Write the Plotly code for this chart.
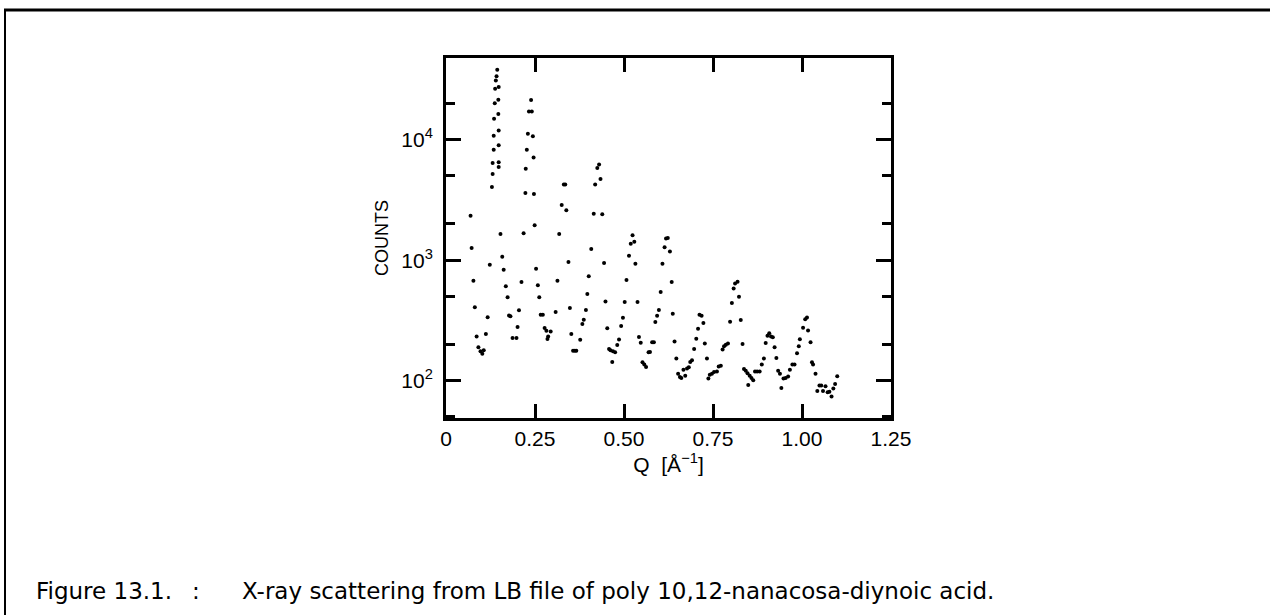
import plotly.graph_objects as go

# Scattering vector Q [1/Angstrom]
q = [0.069, 0.072, 0.077, 0.081, 0.086, 0.091, 0.097, 0.102, 0.106, 0.112, 0.117, 0.123,
     0.129, 0.131, 0.131, 0.134, 0.134, 0.135, 0.137, 0.138, 0.140, 0.142, 0.144,
     0.148, 0.147, 0.147, 0.148, 0.148, 0.148, 0.148,
     0.153, 0.158, 0.162, 0.168, 0.173, 0.177, 0.181, 0.187, 0.198, 0.201, 0.205, 0.212,
     0.218, 0.223, 0.224, 0.227, 0.230, 0.233, 0.239, 0.241, 0.244, 0.246, 0.247, 0.249,
     0.253, 0.258, 0.262, 0.266, 0.272, 0.277, 0.282, 0.287, 0.285, 0.294,
     0.308, 0.313, 0.318, 0.325, 0.331, 0.335, 0.338, 0.344, 0.348, 0.352, 0.357, 0.362,
     0.366, 0.377, 0.383, 0.387, 0.393, 0.397, 0.401,
     0.408, 0.415, 0.419, 0.425, 0.430, 0.434, 0.439, 0.444, 0.448, 0.453, 0.458, 0.462,
     0.469, 0.475, 0.467, 0.481, 0.486, 0.492, 0.497, 0.502, 0.507, 0.514, 0.519, 0.524,
     0.529, 0.532, 0.538, 0.542, 0.547, 0.552, 0.557, 0.562, 0.569, 0.573, 0.579, 0.584,
     0.588, 0.593, 0.598, 0.603, 0.608, 0.614, 0.618, 0.623, 0.629, 0.634, 0.637, 0.642,
     0.647, 0.652, 0.657, 0.661, 0.667, 0.672, 0.677, 0.682, 0.686, 0.691, 0.697, 0.703,
     0.708, 0.712, 0.718, 0.723, 0.727, 0.733, 0.737, 0.741, 0.747, 0.753, 0.761, 0.766,
     0.772, 0.777, 0.781, 0.786, 0.792,
     0.798, 0.803, 0.808, 0.812, 0.819, 0.823, 0.828, 0.833, 0.837, 0.842, 0.847, 0.849,
     0.853, 0.858, 0.863, 0.868, 0.874, 0.881, 0.887, 0.893, 0.898, 0.903, 0.908, 0.913,
     0.918, 0.923, 0.928, 0.933, 0.938, 0.942, 0.948, 0.954, 0.961, 0.966, 0.973, 0.979,
     0.986, 0.991, 0.994, 1.003, 1.009, 1.014, 1.017, 1.024, 1.028, 1.031, 1.038, 1.043,
     1.049, 1.054, 1.059, 1.066, 1.072, 1.077, 1.083, 1.088, 1.093, 1.099]

# Measured counts
counts = [2340, 1260, 676, 406, 233, 189, 175, 167, 179, 244, 336, 918,
          4050, 5190, 6400, 8260, 10800, 14900, 20100, 26500, 31000, 33600, 38100,
          27400, 21500, 16300, 11900, 8980, 6490, 5930,
          1650, 1070, 834, 607, 492, 348, 342, 226, 226, 279, 384, 659,
          1670, 3610, 5740, 8260, 11200, 17100, 21300, 17100, 10700, 7100, 3540, 1950,
          849, 618, 492, 353, 353, 274, 260, 233, 222, 256,
          372, 676, 1650, 2870, 4240, 4240, 2600, 966, 401, 244, 177, 177,
          177, 219, 295, 321, 386, 524, 735,
          1240, 2430, 4240, 5820, 6210, 4720, 2400, 946, 453, 272, 183, 179,
          175, 172, 143, 198, 220, 284, 333, 450, 684, 1090, 1370, 1610,
          1420, 935, 450, 230, 206, 142, 136, 130, 172, 173, 208, 208,
          307, 346, 386, 544, 935, 1280, 1510, 1530, 1180, 659, 360, 211,
          153, 114, 107, 105, 123, 110, 126, 129, 143, 148, 183, 223,
          270, 353, 346, 301, 203, 153, 104, 112, 114, 118, 119, 131,
          133, 181, 193, 199, 203,
          308, 441, 582, 641, 661, 497, 318, 201, 125, 121, 115, 92,
          110, 105, 101, 119, 119, 119, 136, 153, 205, 236, 248, 233,
          229, 189, 154, 121, 114, 87, 104, 105, 108, 123, 136, 136,
          169, 193, 221, 275, 324, 335, 261, 208, 142, 136, 114, 82,
          91, 91, 82, 90, 80, 81, 74, 86, 94, 109]

x_ticks = [0, 0.25, 0.5, 0.75, 1.0, 1.25]
x_tick_labels = ["0", "0.25", "0.50", "0.75", "1.00", "1.25"]
y_ticks = [100, 1000, 10000]
y_tick_labels = ["10<sup>2</sup>", "10<sup>3</sup>", "10<sup>4</sup>"]
y_minor = [50, 200, 500, 2000, 5000, 20000]

caption_label = "Figure 13.1."
caption_colon = ":"
caption_text = "X-ray scattering from LB file of poly 10,12-nanacosa-diynoic acid."

FONT = "Liberation Sans, Arial, sans-serif"
CAP_FONT = "DejaVu Sans, Liberation Sans, Arial, sans-serif"

W, H = 1270, 615
L, R, T, B = 446, 891, 58, 418   # plot area in pixels


def px(x):
    return (x - L) / (R - L)


def py(y):
    return (B - y) / (B - T)


fig = go.Figure()
fig.add_trace(go.Scatter(
    x=q, y=counts, mode="markers",
    marker=dict(color="black", size=4, line=dict(width=0)),
    showlegend=False, hoverinfo="x+y"))

fig.update_layout(
    width=W, height=H,
    margin=dict(l=L, r=W - R, t=T, b=H - B),
    paper_bgcolor="white", plot_bgcolor="white",
    font=dict(family=FONT, color="black", size=20),
)

fig.update_xaxes(
    range=[0, 1.25], tickvals=x_ticks, ticktext=x_tick_labels,
    ticks="inside", ticklen=14, tickwidth=3, tickcolor="black",
    showline=True, linewidth=3, linecolor="black", mirror="allticks",
    showgrid=False, zeroline=False,
    tickfont=dict(family=FONT, size=21),
    title=dict(text="Q  [Å<sup>−1</sup>]", font=dict(family=FONT, size=21), standoff=0),
)
fig.update_yaxes(
    type="log", range=[1.69, 4.678],
    tickvals=y_ticks, ticktext=y_tick_labels,
    ticks="inside", ticklen=15, tickwidth=3, tickcolor="black",
    minor=dict(tickvals=y_minor, ticks="inside", ticklen=9, tickwidth=3, tickcolor="black"),
    showline=True, linewidth=3, linecolor="black", mirror="allticks",
    showgrid=False, zeroline=False,
    tickfont=dict(family=FONT, size=21),
    ticklabelstandoff=6,
    title=dict(text="COUNTS", font=dict(family=FONT, size=18), standoff=8),
)

# Page frame (top and left rules of the figure box)
fig.add_shape(type="line", xref="paper", yref="paper",
              x0=px(4), x1=px(W), y0=py(10), y1=py(10),
              line=dict(color="black", width=3))
fig.add_shape(type="line", xref="paper", yref="paper",
              x0=px(5), x1=px(5), y0=py(10), y1=py(H),
              line=dict(color="black", width=2))

cap_font = dict(family=CAP_FONT, size=23, color="black")
fig.add_annotation(text=caption_label, xref="paper", yref="paper",
                   x=px(34), y=py(591), xanchor="left", yanchor="middle", showarrow=False,
                   font=cap_font)
fig.add_annotation(text=caption_colon, xref="paper", yref="paper",
                   x=px(190), y=py(591), xanchor="left", yanchor="middle", showarrow=False,
                   font=cap_font)
fig.add_annotation(text=caption_text, xref="paper", yref="paper",
                   x=px(240), y=py(591), xanchor="left", yanchor="middle", showarrow=False,
                   font=cap_font)

fig.write_html("out.html", config={"displayModeBar": False},
               post_script="document.body.style.margin='0';document.body.style.overflow='hidden';")
